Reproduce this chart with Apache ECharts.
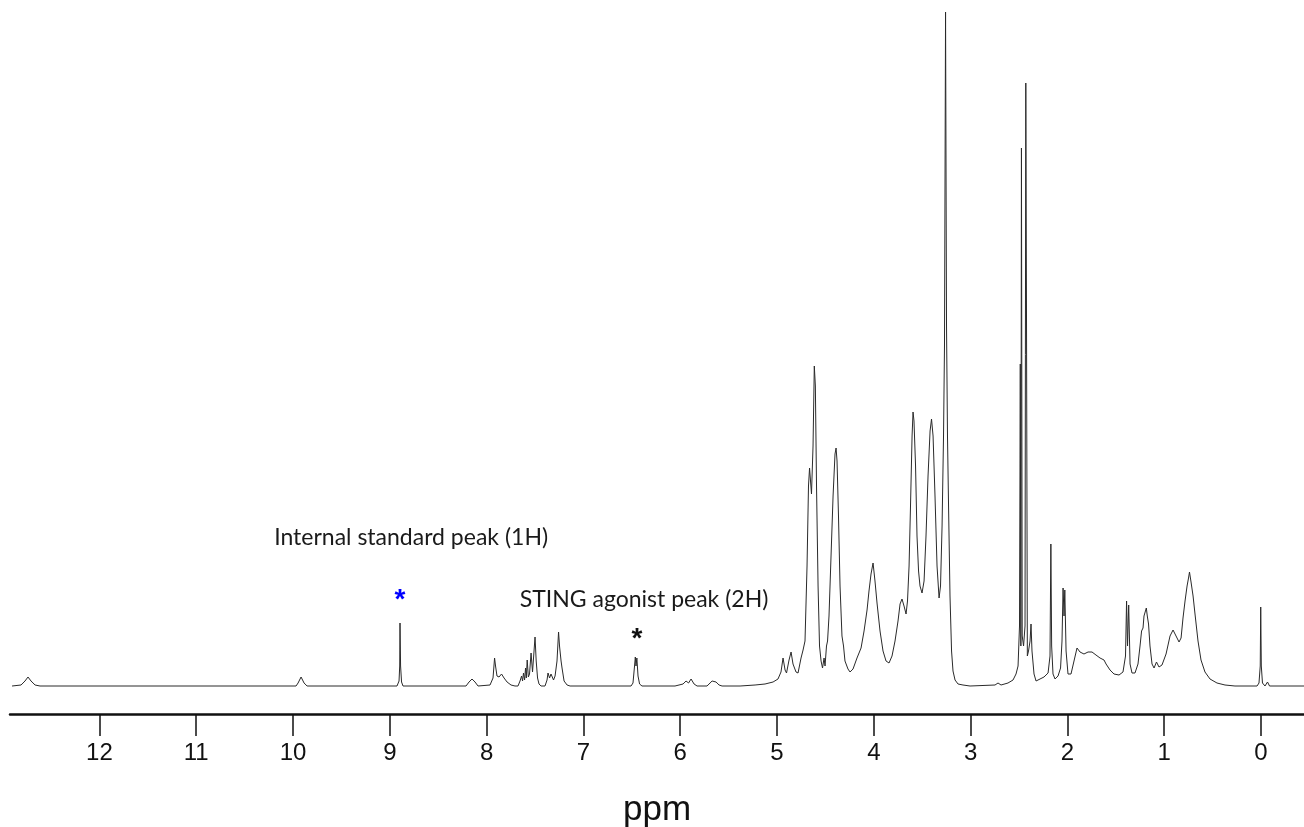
<!DOCTYPE html>
<html>
<head>
<meta charset="utf-8">
<script src="https://cdn.jsdelivr.net/npm/echarts@6/dist/echarts.min.js"></script>
<style>html,body{margin:0;padding:0;background:#fff}#c{width:1304px;height:827px}</style>
</head>
<body>
<div id="c"></div>
<script>
// 1H NMR spectrum, [ppm, intensity] (intensity in arbitrary units)
const lowFieldRegion = [
 [12.903,0],[12.810,1],[12.769,5],[12.738,9],[12.707,5],[12.665,1],[12.614,0],
 [9.969,0],[9.948,3],[9.917,9],[9.886,3],[9.855,0],
 [8.926,0],[8.905,5],[8.898,20],[8.895,63],[8.889,20],[8.879,4],[8.864,0],
 [8.213,0],[8.182,4],[8.151,7],[8.120,4],[8.089,0]
];
const aromaticRegion = [
 [7.965,1],[7.934,8],[7.918,28],[7.908,20],[7.893,10],[7.872,9],[7.846,12],[7.820,8],[7.789,4],[7.748,1],[7.707,0],
 [7.676,0],[7.655,5],[7.639,10],[7.629,5],[7.619,13],[7.608,6],[7.598,18],[7.590,8],[7.581,26],[7.569,9],[7.557,12],[7.541,33],[7.526,14],[7.515,16],[7.500,49],[7.488,25],[7.474,8],[7.459,2],[7.438,0],
 [7.397,0],[7.376,6],[7.366,13],[7.350,8],[7.335,12],[7.324,13],[7.309,6],[7.293,10],[7.273,25],[7.257,54],[7.247,40],[7.231,25],[7.221,18],[7.200,5],[7.169,1],[7.138,0],
 [6.508,0],[6.488,3],[6.472,20],[6.464,29],[6.457,20],[6.448,28],[6.436,10],[6.420,2],[6.395,0],
 [6.054,0],[6.043,1],[5.971,2],[5.940,5],[5.914,3],[5.888,7],[5.857,2],[5.826,0],
 [5.723,0],[5.692,3],[5.671,5],[5.651,3],[5.630,4],[5.599,1],[5.568,0]
];
const midFieldRegion = [
 [5.382,0],[5.227,1],[5.124,2],[5.041,4],[4.990,7],[4.959,14],[4.938,28],[4.917,16],[4.902,13],[4.876,26],[4.855,34],[4.835,22],[4.804,14],[4.783,13],[4.752,28],[4.731,36],[4.711,45],
 [4.690,120],[4.675,200],[4.664,218],[4.654,205],[4.644,192],[4.628,240],[4.615,320],[4.604,300],[4.592,200],[4.576,100],[4.561,40],[4.545,25],[4.530,18],[4.514,28],[4.504,20],[4.489,40],[4.478,45],
 [4.463,70],[4.442,130],[4.421,190],[4.401,232],[4.390,238],[4.380,225],[4.365,170],[4.349,100],[4.329,50],[4.313,40],[4.298,25],[4.282,27],[4.267,17],[4.246,14],[4.215,17],
 [4.174,28],[4.132,38],[4.101,55],[4.070,76],[4.050,95],[4.029,112],[4.008,123],[3.988,105],[3.967,83],[3.936,55],[3.905,35],[3.874,25],[3.843,23],[3.812,30],[3.781,45],[3.750,65],[3.729,82],[3.709,87],[3.688,80],[3.667,72],
 [3.652,85],[3.636,120],[3.621,180],[3.605,250],[3.595,274],[3.585,265],[3.569,220],[3.554,150],[3.538,115],[3.523,100],[3.502,93],[3.481,105],[3.461,150],[3.440,210],[3.419,255],[3.404,267],[3.388,250],[3.368,190],[3.347,120],[3.326,88],
 [3.311,100],[3.295,160],[3.280,250],[3.270,340],[3.259,674],[3.249,360],[3.239,250],[3.228,180],[3.213,90],[3.197,35],[3.182,15],[3.161,6],[3.130,2],[3.079,1],[3.006,0]
];
const highFieldRegion = [
 [2.748,1],[2.717,3],[2.686,1],[2.614,3],[2.562,6],[2.531,12],[2.510,20],[2.495,60],[2.487,322],[2.481,40],[2.475,538],[2.467,50],[2.453,40],[2.438,60],[2.430,603],[2.423,380],[2.414,30],[2.402,35],[2.386,45],[2.376,62],[2.366,35],[2.345,12],[2.324,5],
 [2.283,7],[2.242,9],[2.200,13],[2.180,30],[2.171,142],[2.163,40],[2.149,12],[2.128,7],[2.097,10],[2.071,18],[2.056,45],[2.045,98],[2.035,70],[2.027,96],[2.014,35],[1.994,12],
 [1.963,12],[1.932,25],[1.901,38],[1.870,34],[1.829,32],[1.787,34],[1.746,34],[1.705,31],[1.663,28],[1.622,26],[1.601,22],[1.586,24],[1.560,16],[1.519,12],[1.467,11],
 [1.426,14],[1.400,30],[1.389,85],[1.379,40],[1.367,81],[1.353,22],[1.333,13],[1.302,13],[1.271,22],[1.250,40],[1.234,55],[1.219,58],[1.209,70],[1.198,68],[1.185,78],[1.175,70],[1.162,62],[1.147,40],[1.126,22],[1.105,18],[1.080,24],[1.054,19],[1.023,21],
 [0.981,32],[0.940,50],[0.909,56],[0.878,50],[0.847,44],[0.826,48],[0.806,68],[0.785,85],[0.764,100],[0.749,108],[0.739,114],[0.723,104],[0.702,90],[0.682,72],[0.651,45],[0.620,26],[0.579,14],[0.527,7],[0.455,3],[0.372,1],[0.269,0],
 [0.041,0],[0.021,3],[0.008,20],[0.003,79],[-0.003,20],[-0.015,3],[-0.041,0],[-0.067,4],[-0.088,0],[-0.444,0]
];
const tickValues = [0,1,2,3,4,5,6,7,8,9,10,11,12];
const annotationTexts = ['Internal standard peak (1H)', 'STING agonist peak (2H)'];
const annotationAnchors = [[8.78,148],[6.374,86]];
const markerAnchors = [[8.895,86],[6.446,47]];
const markerColors = ['#0000ff','#111111'];

const spectrum = [].concat(lowFieldRegion, aromaticRegion, midFieldRegion, highFieldRegion);

const chart = echarts.init(document.getElementById('c'), null, {renderer:'canvas'});
chart.setOption({
  animation: false,
  backgroundColor: '#ffffff',
  grid: {left: 10, right: 0, top: 10, bottom: 113, containLabel: false, outerBoundsMode: 'none'},
  xAxis: {
    type: 'value', inverse: true, min: -0.444, max: 12.924,
    name: 'ppm', nameLocation: 'middle', nameGap: 79,
    nameTextStyle: {fontFamily: 'Liberation Sans, Arial, sans-serif', fontSize: 35, color: '#111'},
    axisLine: {show: true, onZero: false, lineStyle: {color: '#111', width: 2.5}},
    axisTick: {show: true, inside: false, length: 22, customValues: tickValues, lineStyle: {color: '#111', width: 1.5}},
    axisLabel: {show: true, margin: 27, customValues: tickValues, fontFamily: 'Liberation Sans, Arial, sans-serif', fontSize: 24, color: '#111'},
    splitLine: {show: false}
  },
  yAxis: {type: 'value', min: -28, max: 676, show: false, splitLine: {show: false}},
  series: [
    {
      type: 'line', data: spectrum, showSymbol: false, symbol: 'none', sampling: null,
      lineStyle: {color: '#2a2a2a', width: 1}, silent: true, z: 2
    },
    {
      type: 'scatter', symbolSize: 1, itemStyle: {color: 'rgba(0,0,0,0)', opacity: 1}, silent: true, z: 3,
      data: annotationAnchors.map((p, i) => ({value: p, name: annotationTexts[i]})),
      label: {show: true, position: 'inside', formatter: p => p.name, fontFamily: 'Lato, Open Sans, sans-serif', fontSize: 23, color: '#1a1a1a', opacity: 1}
    },
    {
      type: 'scatter', symbolSize: 1, itemStyle: {color: 'rgba(0,0,0,0)', opacity: 1}, silent: true, z: 3,
      data: markerAnchors.map((p, i) => ({value: p, label: {color: markerColors[i]}})),
      label: {show: true, position: 'inside', formatter: '*', fontFamily: 'Liberation Sans, Arial, sans-serif', fontWeight: 'bold', fontSize: 28, opacity: 1}
    }
  ]
});
</script>
</body>
</html>
